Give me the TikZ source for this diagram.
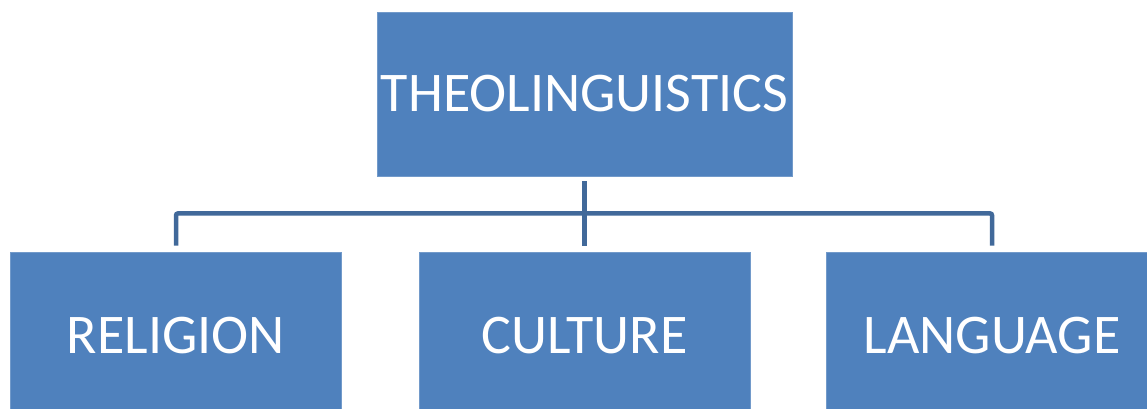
\documentclass[tikz,border=0pt]{standalone}
\usepackage{fontspec}
\setmainfont{Carlito}
\definecolor{boxblue}{HTML}{4F81BD}
\definecolor{lineblue}{HTML}{41699A}
\begin{document}
\begin{tikzpicture}[
		x=1pt,
		y=-1pt,
		font=\fontsize{56}{60}\selectfont
	]
	\tikzset{
		mybox/.style = {rectangle, fill=boxblue, draw=boxblue!80!white, line width=0.8pt, text=white, align=center, inner sep=0pt},
		topbox/.style = {mybox, minimum width=415pt, minimum height=164pt},
		subbox/.style = {mybox, minimum width=331pt, minimum height=168pt},
		mylink/.style = {-, line width=4.5pt, lineblue, rounded corners=2pt},
	}
	\useasboundingbox (0,0) rectangle (1147,409);
	\clip (0,0) rectangle (1147,409);
	\node[topbox] at (584.5,94.0) (theo) {THEOLINGUISTICS};
	\node[subbox] at (176.0,336.0) (rel) {RELIGION};
	\node[subbox] at (584.5,336.0) (cult) {CULTURE};
	\node[subbox] at (992.0,336.0) (lang) {LANGUAGE};
	%
	\draw[mylink, shorten <=5pt, shorten >=6pt] (theo.south) -- (cult.north);
	\draw[mylink, shorten <=6pt, shorten >=6pt] (rel.north) |- ([yshift=-37pt]theo.south) -| (lang.north);
\end{tikzpicture}
\end{document}
